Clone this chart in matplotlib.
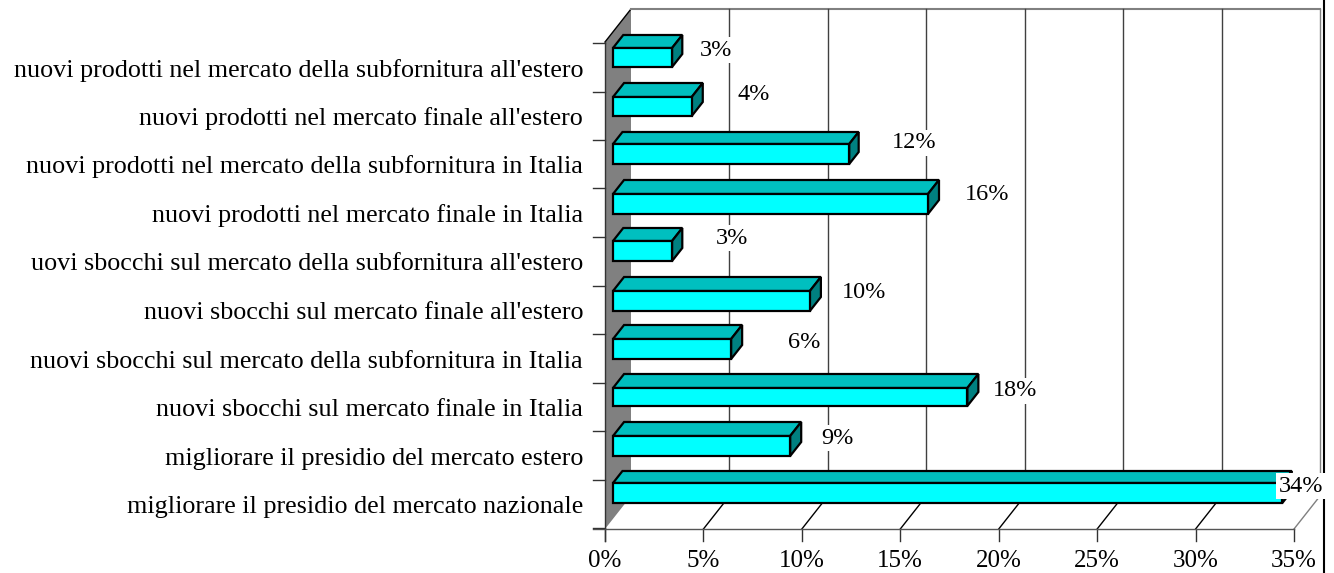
import matplotlib
matplotlib.use("Agg")
import matplotlib.pyplot as plt
from matplotlib.patches import Polygon

#Data, top row first
categories = ["nuovi prodotti nel mercato della subfornitura all'estero",
              "nuovi prodotti nel mercato finale all'estero",
              "nuovi prodotti nel mercato della subfornitura in Italia",
              "nuovi prodotti nel mercato finale in Italia",
              "uovi sbocchi sul mercato della subfornitura all'estero",
              "nuovi sbocchi sul mercato finale all'estero",
              "nuovi sbocchi sul mercato della subfornitura in Italia",
              "nuovi sbocchi sul mercato finale in Italia",
              "migliorare il presidio del mercato estero",
              "migliorare il presidio del mercato nazionale"]
values = [3, 4, 12, 16, 3, 10, 6, 18, 9, 34]
value_labels = ["3%", "4%", "12%", "16%", "3%", "10%", "6%", "18%", "9%", "34%"]
x_ticks = [0, 5, 10, 15, 20, 25, 30, 35]

#Layout in pixels of the reference
x0, x35 = 605, 1294
floor_y, top_y = 529, 9
dx, dy = 26, 33
scale = (x35 - x0) / 35
bar_left = 613
bar_back = [35, 83, 132, 180, 228, 277, 325, 374, 422, 471]
bar_front = [48, 97, 144, 194, 241, 291, 339, 388, 436, 483]
bar_bottom = [67, 116, 164, 214, 261, 311, 359, 406, 456, 503]
label_pos = [(716, 50), (754, 94), (914, 143), (987, 195), (732, 238),
             (864, 293), (804, 342), (1015, 391), (837, 438), (1301, 486)]
tick_rows = [43, 92, 140, 188, 237, 286, 334, 383, 431, 480, 528]

plt.rcParams['font.family'] = ['Liberation Serif', 'DejaVu Serif']
fig = plt.figure(figsize=(13.34, 5.73), dpi=100)
ax = fig.add_axes([0, 0, 1, 1])
ax.set_xlim(0, 1334)
ax.set_ylim(573, 0)
ax.axis("off")

def to_px(v):
    return x0 + v * scale

#Left wall and back wall
ax.add_patch(Polygon([(x0, top_y + dy), (x0 + dx, top_y), (x0 + dx, floor_y - dy), (x0, floor_y)],
                     facecolor="#808080", edgecolor="none", zorder=1))
ax.plot([x0, x0 + dx], [top_y + dy, top_y], color="black", lw=1, zorder=2)
ax.plot([x0, x0], [top_y + dy, floor_y + 12], color="#333333", lw=1, zorder=2)
ax.plot([x0 + dx, x35 + dx], [top_y, top_y], color="#808080", lw=1.5, zorder=2)

#Gridlines and floor
for t in x_ticks[1:]:
    px = to_px(t)
    last = t == x_ticks[-1]
    ax.plot([px + dx, px + dx], [top_y, floor_y - dy], color="#808080" if last else "#404040", lw=1, zorder=2)
    ax.plot([px, px + dx], [floor_y, floor_y - dy], color="#808080" if last else "black", lw=1, zorder=2)
for t in x_ticks:
    px = to_px(t)
    ax.plot([px, px], [floor_y, floor_y + 12], color="#333333", lw=1, zorder=2)
    ax.text(px, 561, str(t) + "%", fontsize=18, ha="center", va="center", color="black")
ax.plot([x0 - 12, x35], [floor_y, floor_y], color="#555555", lw=1, zorder=2)
for y in tick_rows:
    ax.plot([x0 - 12, x0], [y, y], color="#333333", lw=1, zorder=2)
ax.plot([1324, 1324], [0, 573], color="black", lw=1.5, zorder=2)

#Bars
for i, v in enumerate(values):
    right = bar_left + v * scale
    depth_y = bar_front[i] - bar_back[i]
    depth_x = depth_y * dx / dy
    edge = dict(edgecolor="black", linewidth=1.6, joinstyle="miter", zorder=3)
    ax.add_patch(Polygon([(bar_left, bar_front[i]), (bar_left + depth_x, bar_back[i]),
                          (right + depth_x, bar_back[i]), (right, bar_front[i])],
                         facecolor="#00BFBF", **edge))
    ax.add_patch(Polygon([(right, bar_front[i]), (right + depth_x, bar_back[i]),
                          (right + depth_x, bar_bottom[i] - depth_y), (right, bar_bottom[i])],
                         facecolor="#008080", **edge))
    ax.add_patch(Polygon([(bar_left, bar_front[i]), (right, bar_front[i]),
                          (right, bar_bottom[i]), (bar_left, bar_bottom[i])],
                         facecolor="#00FFFF", **edge))
    ax.text(label_pos[i][0], label_pos[i][1], value_labels[i], fontsize=17.5, ha="center", va="center",
            color="black", zorder=5,
            bbox=dict(facecolor="white", edgecolor="none", pad=2))

#Category labels
for i, name in enumerate(categories):
    ax.text(583, (tick_rows[i] + tick_rows[i + 1]) / 2 + 3, name, fontsize=18.8, ha="right", va="center", color="black")

fig.savefig("out.png", dpi=100, facecolor="white")
